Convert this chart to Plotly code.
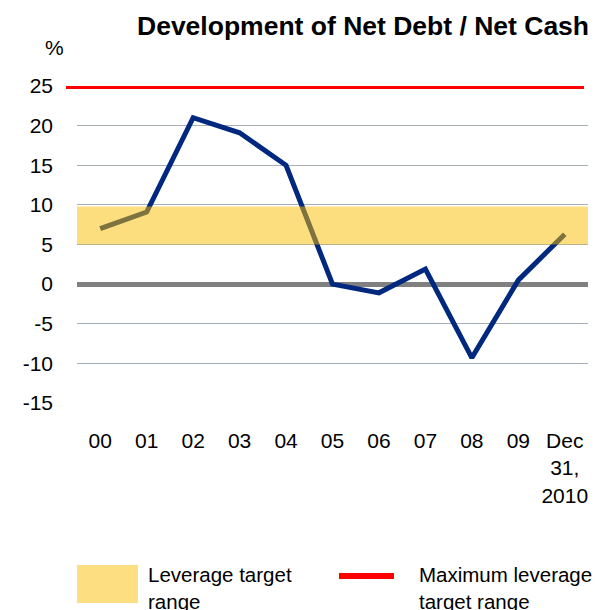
import plotly.graph_objects as go

years = ["00", "01", "02", "03", "04", "05", "06", "07", "08", "09", "Dec<br>31,<br>2010"]
net_debt = [7.0, 9.1, 21.0, 19.1, 15.0, 0.0, -1.1, 1.9, -9.3, 0.5, 6.3]
target_low = 5.0
target_high = 9.8
max_leverage = 25.0
y_ticks = [-15, -10, -5, 0, 5, 10, 15, 20, 25]
y_labels = ["-15", "-10", "-5", "0", "5", "10", "15", "20", "25"]

FONT = "Liberation Sans, Arial, sans-serif"

# the page puts the figure 8px in from the top-left corner
OFF = 8
W, H = 601 - OFF, 610 - OFF
# plot area in page pixels (used to place the hand-made legend)
L, R, T, B = 77, 588, 86, 403


def px_x(p):
    return (p - L) / (R - L)


def px_y(p):
    return (B - p) / (B - T)


fig = go.Figure()

fig.add_trace(go.Scatter(x=list(range(len(years))), y=net_debt, mode="lines",
                         line=dict(color="#00287F", width=5),
                         showlegend=False, hoverinfo="skip"))

# Leverage target band (drawn over the line, semi transparent)
fig.add_shape(type="rect", xref="paper", yref="y", x0=0, x1=1,
              y0=target_low, y1=target_high, fillcolor="rgb(251,190,0)",
              opacity=0.5, line=dict(width=0), layer="above")

# Maximum leverage line
fig.add_shape(type="line", xref="paper", yref="y", x0=px_x(66), x1=px_x(584),
              y0=max_leverage, y1=max_leverage,
              line=dict(color="#FF0000", width=6), layer="above")

# Legend (hand-made)
fig.add_shape(type="rect", xref="paper", yref="paper",
              x0=px_x(77), x1=px_x(138), y0=px_y(603), y1=px_y(565),
              fillcolor="rgb(253,222,128)", line=dict(width=0))
fig.add_shape(type="line", xref="paper", yref="paper",
              x0=px_x(339), x1=px_x(394), y0=px_y(576), y1=px_y(576),
              line=dict(color="#FF0000", width=6))
fig.add_annotation(text="Leverage target<br>range", xref="paper", yref="paper",
                   x=px_x(146), y=px_y(588), xanchor="left", yanchor="middle",
                   align="left", showarrow=False,
                   font=dict(family=FONT, size=20.5, color="black"))
fig.add_annotation(text="Maximum leverage<br>target range", xref="paper", yref="paper",
                   x=px_x(417), y=px_y(588), xanchor="left", yanchor="middle",
                   align="left", showarrow=False,
                   font=dict(family=FONT, size=20.5, color="black"))

# Title and unit
fig.add_annotation(text="<b>Development of Net Debt / Net Cash</b>",
                   xref="paper", yref="paper", x=px_x(591), y=px_y(26),
                   xanchor="right", yanchor="middle", showarrow=False,
                   font=dict(family=FONT, size=26.5, color="black"))
fig.add_annotation(text="%", xref="paper", yref="paper", x=px_x(54), y=px_y(47),
                   xanchor="center", yanchor="middle", showarrow=False,
                   font=dict(family=FONT, size=21, color="black"))

fig.update_layout(width=W, height=H, plot_bgcolor="#ffffff",
                  paper_bgcolor="#ffffff",
                  margin=dict(l=L - OFF, r=601 - R, t=T - OFF, b=610 - B),
                  font=dict(family=FONT, size=21, color="black"))

fig.update_xaxes(range=[-0.5, len(years) - 0.5], tickvals=list(range(len(years))),
                 ticktext=years, showgrid=False, zeroline=False, showline=False,
                 ticks="", ticklabelstandoff=23,
                 tickfont=dict(family=FONT, size=21, color="black"))
fig.update_yaxes(range=[-15, 25], tickvals=y_ticks, ticktext=y_labels,
                 showgrid=True, gridcolor="#A7B0B8", gridwidth=1, zeroline=True,
                 zerolinecolor="#808080", zerolinewidth=5, showline=False,
                 ticks="", ticklabelstandoff=23,
                 tickfont=dict(family=FONT, size=21, color="black"))

fig.write_html("out.html")
